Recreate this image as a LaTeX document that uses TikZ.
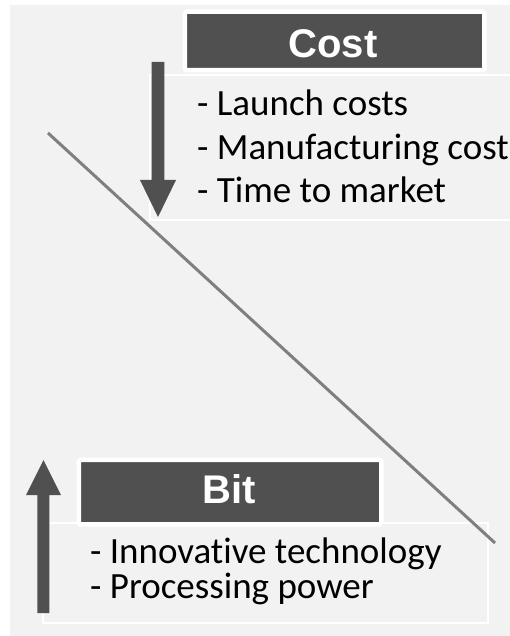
\documentclass[tikz,border=0pt]{standalone}
\usepackage{fontspec}
\setmainfont{Carlito}[Ligatures=NoCommon]
\newfontfamily\headfont{Liberation Sans}
\begin{document}
\begin{tikzpicture}[x=1pt,y=-1pt,
  panel/.style={fill=bggray,draw=none},
  headbox/.style={draw=white,line width=4.5pt,fill=darkgray5,rounded corners=1.5pt,inner sep=0pt},
  headtext/.style={text=white,font=\headfont\bfseries\fontsize{40}{40}\selectfont,inner sep=0pt,anchor=base},
  listbox/.style={draw=white,line width=1.8pt},
  item/.style={font=\fontsize{37}{43.5}\selectfont,inner sep=0pt,anchor=base west,text=black},
  bigarrow/.style={fill=darkgray5,draw=none},
  trend/.style={draw=linegray,line width=3pt}]
\definecolor{bggray}{HTML}{F2F2F2}
\definecolor{darkgray5}{HTML}{505050}
\definecolor{linegray}{HTML}{7F7F7F}
\useasboundingbox (0,0) rectangle (510,636);
% backdrop
\fill[white] (0,0) rectangle (510,636);
\path[panel] (10,5) rectangle (512,638);

% list frames
\draw[listbox] (150,75) rectangle (520,220);
\draw[listbox] (43,523) rectangle (488,623);

% trend line
\coordinate (tA) at (48,133);
\coordinate (tB) at (495,543);
\draw[trend] (tA) -- (tB);

% cost heading and items
\node[headbox,minimum width=299.5pt,minimum height=58.5pt] (costbox) at (334.5,41) {};
\node[headtext] (costlbl) at (333,58) {Cost};
\node[item] (c1) at (197,116) {- Launch costs};
\node[item] (c2) at (197,160) {- Manufacturing cost};
\node[item] (c3) at (197,203) {- Time to market};

% bit heading and items
\node[headbox,minimum width=302.5pt,minimum height=64.5pt] (bitbox) at (230,492) {};
\node[headtext] (bitlbl) at (229,503) {Bit};
\node[item] (b1) at (90,563) {- Innovative technology};
\node[item] (b2) at (90,598) {- Processing power};

% downward arrow
\path[bigarrow] (151.7,62) -- (164.3,62) -- (164.3,180) -- (176,180) -- (158,217)
  -- (140,180) -- (151.7,180) -- cycle;
% upward arrow
\path[bigarrow] (37.3,613) -- (49.3,613) -- (49.3,495) -- (61,495) -- (43.5,460)
  -- (26,495) -- (37.3,495) -- cycle;
\end{tikzpicture}
\end{document}
